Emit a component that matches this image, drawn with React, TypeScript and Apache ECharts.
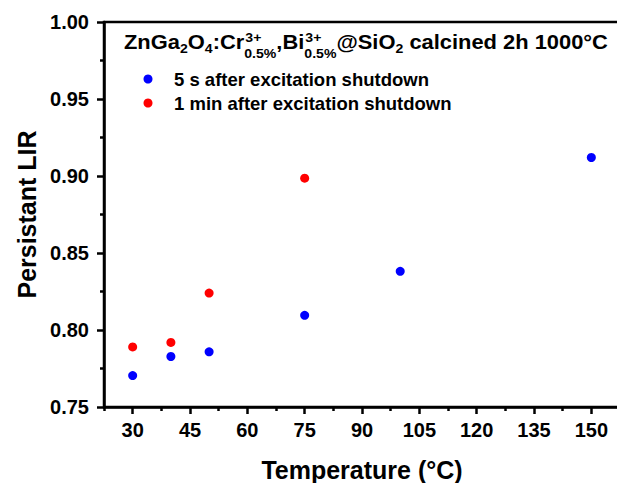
import React, { useEffect, useRef } from "react";
import * as echarts from "echarts";

const FONT = '"Liberation Sans", Arial, Helvetica, sans-serif';

// Data
const temps5s = [30, 40, 50, 75, 100, 150];
const lir5s = [0.7704, 0.7828, 0.7858, 0.8095, 0.8381, 0.912];
const temps1min = [30, 40, 50, 75];
const lir1min = [0.789, 0.7919, 0.824, 0.8986];

const seriesNames = ["5 s after excitation shutdown", "1 min after excitation shutdown"];
const majorXTicks = [30, 45, 60, 75, 90, 105, 120, 135, 150];
const minorXTicks = [22.5, 37.5, 52.5, 67.5, 82.5, 97.5, 112.5, 127.5, 142.5, 157.5];
const xName = "Temperature (°C)";
const yName = "Persistant LIR";

// title pieces: kind main / sub / stack(sup, sub)
const titleParts: any[] = [
  { k: "main", t: "ZnGa" },
  { k: "sub", t: "2" },
  { k: "main", t: "O" },
  { k: "sub", t: "4" },
  { k: "main", t: ":Cr" },
  { k: "stack", sup: "3+", sub: "0.5%" },
  { k: "main", t: "," },
  { k: "main", t: "Bi" },
  { k: "stack", sup: "3+", sub: "0.5%" },
  { k: "main", t: "@SiO" },
  { k: "sub", t: "2" },
  { k: "main", t: " calcined 2h 1000°C" },
];

function measure(text: string, size: number) {
  const ctx = document.createElement("canvas").getContext("2d")!;
  ctx.font = `bold ${size}px ${FONT}`;
  return ctx.measureText(text).width;
}

export default function App() {
  const ref = useRef<HTMLDivElement>(null);
  useEffect(() => {
    document.body.style.margin = "0";
    const chart = echarts.init(ref.current!, null, { renderer: "svg" });

    const MAIN = 21;
    const SMALL = 13.5;
    const mainY = 42.5;
    const subY = 48.5;
    const supY = 38;
    const stackSubY = 53.5;
    const x0 = 124;
    const targetWidth = 484;

    const pieceW = (p: any) =>
      p.k === "main"
        ? measure(p.t, MAIN)
        : p.k === "sub"
        ? measure(p.t, SMALL)
        : Math.max(measure(p.sup, SMALL) + 1, measure(p.sub, SMALL));
    const total = titleParts.reduce((s, p) => s + pieceW(p), 0);
    const sx = targetWidth / total;

    let x = x0;
    const els: any[] = [];
    const txt = (t: string, xx: number, yy: number, size: number) => ({
      type: "text",
      x: xx,
      y: yy,
      scaleX: sx,
      style: {
        text: t,
        font: `bold ${size}px ${FONT}`,
        fill: "#000",
        textAlign: "left",
        verticalAlign: "middle",
      },
    });
    for (const p of titleParts) {
      if (p.k === "main") {
        els.push(txt(p.t, x, mainY, MAIN));
      } else if (p.k === "sub") {
        els.push(txt(p.t, x, subY, SMALL));
      } else {
        els.push(txt(p.sup, x + 1 * sx, supY, SMALL));
        els.push(txt(p.sub, x, stackSubY, SMALL));
      }
      x += pieceW(p) * sx;
    }

    const axisLineStyle = { color: "#000", width: 2.5 };
    const labelStyle = { color: "#000", fontFamily: FONT, fontWeight: "bold" as const, fontSize: 20 };

    chart.setOption({
      animation: false,
      backgroundColor: "#ffffff",
      grid: {
        left: 104,
        top: 22,
        width: 516,
        height: 385,
        outerBoundsMode: "none",
        containLabel: false,
        show: true,
        borderColor: "#000",
        borderWidth: 2.5,
        backgroundColor: "transparent",
      },
      legend: {
        show: true,
        orient: "vertical",
        left: 143.5,
        top: 67,
        padding: 0,
        itemGap: 0,
        itemWidth: 42,
        itemHeight: 9,
        icon: "circle",
        data: seriesNames,
        textStyle: { color: "#000", fontFamily: FONT, fontWeight: "bold", fontSize: 18.5, lineHeight: 24 },
      },
      xAxis: [
        {
          type: "value",
          position: "bottom",
          min: 22.5,
          max: 157.5,
          name: xName,
          nameLocation: "middle",
          nameGap: 50,
          nameTextStyle: { color: "#000", fontFamily: FONT, fontWeight: "bold", fontSize: 25 },
          axisLine: { show: true, lineStyle: axisLineStyle },
          axisTick: { show: true, length: 7, lineStyle: axisLineStyle, customValues: majorXTicks },
          axisLabel: { ...labelStyle, margin: 13, customValues: majorXTicks },
          splitLine: { show: false },
        },
        {
          type: "value",
          position: "bottom",
          offset: 0,
          min: 22.5,
          max: 157.5,
          axisLine: { show: false },
          axisTick: { show: true, length: 4, lineStyle: axisLineStyle, customValues: minorXTicks },
          axisLabel: { show: false, customValues: minorXTicks },
          splitLine: { show: false },
        },
      ],
      yAxis: {
        type: "value",
        min: 0.75,
        max: 1.0,
        interval: 0.05,
        name: yName,
        nameLocation: "middle",
        nameGap: 60,
        nameTextStyle: { color: "#000", fontFamily: FONT, fontWeight: "bold", fontSize: 25 },
        axisLine: { show: true, lineStyle: axisLineStyle },
        axisTick: { show: true, length: 7, lineStyle: axisLineStyle },
        minorTick: { show: true, splitNumber: 2, length: 4, lineStyle: axisLineStyle },
        axisLabel: { ...labelStyle, margin: 15, formatter: (v: number) => v.toFixed(2) },
        splitLine: { show: false },
        minorSplitLine: { show: false },
      },
      series: [
        {
          name: seriesNames[0],
          type: "scatter",
          symbol: "circle",
          symbolSize: 9,
          itemStyle: { color: "#0000ff", opacity: 1 },
          data: temps5s.map((t, i) => [t, lir5s[i]]),
        },
        {
          name: seriesNames[1],
          type: "scatter",
          symbol: "circle",
          symbolSize: 9,
          itemStyle: { color: "#ff0000", opacity: 1 },
          data: temps1min.map((t, i) => [t, lir1min[i]]),
        },
      ],
      graphic: els,
    });
    return () => chart.dispose();
  }, []);
  return <div ref={ref} style={{ width: 617, height: 483, position: "absolute", left: 0, top: 0 }} />;
}
